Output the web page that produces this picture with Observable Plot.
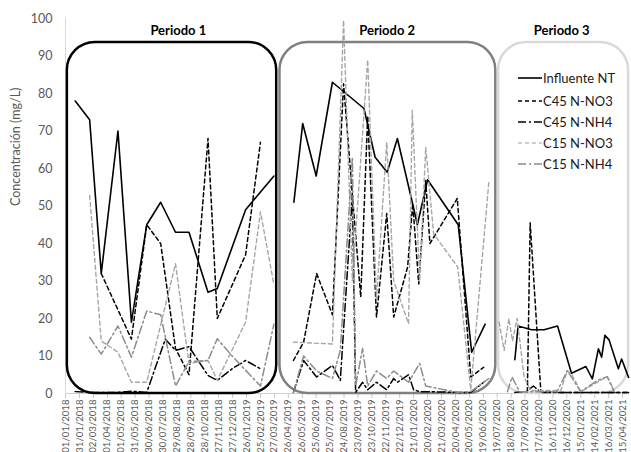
<!DOCTYPE html>
<html><head><meta charset="utf-8">
<script src="https://cdn.jsdelivr.net/npm/d3@7"></script>
<script src="https://cdn.jsdelivr.net/npm/@observablehq/plot@0.6"></script>
<style>
body{margin:0;background:#fff;}
#chart{position:relative;width:631px;height:452px;overflow:hidden;font-family:Lato,"Open Sans",sans-serif;}
#legend{position:absolute;left:0;top:0;}
</style></head><body><div id="chart"></div>
<script>
const tickLabels = ["01/01/2018","31/01/2018","02/03/2018","01/04/2018","01/05/2018","31/05/2018","30/06/2018","30/07/2018","29/08/2018","28/09/2018","28/10/2018","27/11/2018","27/12/2018","26/01/2019","25/02/2019","27/03/2019","26/04/2019","26/05/2019","25/06/2019","25/07/2019","24/08/2019","23/09/2019","23/10/2019","22/11/2019","22/12/2019","21/01/2020","20/02/2020","21/03/2020","20/04/2020","20/05/2020","19/06/2020","19/07/2020","18/08/2020","17/09/2020","17/10/2020","16/11/2020","16/12/2020","15/01/2021","14/02/2021","16/03/2021","15/04/2021"];
const yTicks = [0,10,20,30,40,50,60,70,80,90,100];
const xDomain = ["2018-01-01","2021-04-30"];
const periodNames = ["Periodo 1","Periodo 2","Periodo 3"];
const periodStart = ["2018-01-05","2019-04-08","2020-07-22"];
const periodEnd = ["2019-04-01","2020-07-16","2021-04-28"];
const periodLabelDate = ["2018-09-01","2019-11-25","2020-12-05"];
const periodTop = 93.6;
const periodLabelY = 96.8;
const seriesNames = ["Influente NT","C45 N-NO3","C45 N-NH4","C15 N-NO3","C15 N-NH4"];

const influenteNT = [["2018-01-22",78],["2018-02-22",73],["2018-03-19",32],["2018-04-24",70],["2018-05-23",19],["2018-06-25",45],["2018-07-25",51],["2018-08-26",43],["2018-09-24",43],["2018-11-04",27],["2018-11-24",28],["2019-01-24",49],["2019-03-26",58],
 [null,null],
 ["2019-05-08",51],["2019-05-27",72],["2019-06-25",58],["2019-07-30",83],["2019-10-06",76],["2019-10-30",63],["2019-11-25",59],["2019-12-17",68],["2020-01-18",51],["2020-01-29",45],["2020-02-20",57],["2020-04-26",45],["2020-05-25",11],["2020-06-23",18.5],
 [null,null],
 ["2020-08-26",9],["2020-09-02",18],["2020-10-01",17],["2020-10-28",17],["2020-11-26",18],["2020-12-26",5.4],["2021-01-26",7.2],["2021-02-09",3.9],["2021-02-22",11.9],["2021-03-01",9.7],["2021-03-08",15.5],["2021-03-17",14.3],["2021-04-06",6.6],["2021-04-13",9.2],["2021-04-28",4.3]];

const c45NO3 = [["2018-03-19",32],["2018-05-23",14.5],["2018-06-25",45],["2018-07-25",40],["2018-08-26",12],["2018-09-24",5],["2018-11-04",68],["2018-11-24",20],["2019-01-24",37],["2019-02-25",67],
 [null,null],
 ["2019-05-07",8.8],["2019-05-29",13.7],["2019-06-26",32],["2019-07-30",21],["2019-08-23",82.6],["2019-09-11",53],["2019-09-29",25.7],["2019-10-14",74],["2019-11-02",20.4],["2019-11-24",48],["2019-12-09",20.4],["2020-01-08",33.7],["2020-01-19",50.6],["2020-02-01",29.2],["2020-02-16",56.8],["2020-02-25",40],["2020-04-24",52],["2020-05-23",4.4],["2020-06-20",7],
 [null,null],
 ["2020-09-22",0.5],["2020-09-28",45.5],["2020-10-21",0.5],["2020-12-01",0.3],["2021-01-10",0.3],["2021-04-28",0.3]];

const c45NH4 = [["2018-01-22",0.5],["2018-02-22",0.3],["2018-03-19",0.3],["2018-04-24",0.3],["2018-05-23",0.6],["2018-06-25",0.3],["2018-08-04",14.5],["2018-08-26",11.5],["2018-09-24",12.5],["2018-11-04",4.8],["2018-11-24",3.5],["2018-12-26",6.6],["2019-01-24",8.8],["2019-02-25",6.6],
 [null,null],
 ["2019-05-07",0.3],["2019-05-29",8.8],["2019-06-26",4.4],["2019-07-30",7.5],["2019-08-16",3.5],["2019-09-11",53],["2019-09-18",0.3],["2019-10-03",3],["2019-10-14",1],["2019-11-02",3],["2019-11-24",1],["2019-12-09",4],["2019-12-17",3],["2020-01-10",5],["2020-01-21",1],["2020-02-03",0.5],["2020-02-16",0.5],["2020-04-25",0.3],["2020-05-23",0.3],["2020-06-20",3],
 [null,null],
 ["2020-08-26",0.3],["2020-09-20",0.5],["2020-10-05",2],["2020-10-21",0.3],["2021-04-28",0.3]];

const c15NO3 = [["2018-02-22",52.8],["2018-03-19",14],["2018-04-24",11],["2018-05-23",3],["2018-06-25",3],["2018-08-26",34.6],["2018-09-24",8],["2018-11-04",8.8],["2018-11-24",3.5],["2019-01-24",19],["2019-02-25",48.4],["2019-03-26",29],
 [null,null],
 ["2019-05-07",13.7],["2019-07-30",13.2],["2019-08-23",99.5],["2019-09-11",30],["2019-10-14",89],["2019-11-02",25],["2019-11-24",67],["2019-12-09",30],["2020-01-10",18.6],["2020-01-18",75.5],["2020-02-03",30],["2020-02-16",65.7],["2020-03-04",42.6],["2020-04-25",33.7],["2020-05-23",1],["2020-07-01",56.4],
 [null,null],
 ["2020-07-23",19],["2020-08-03",11.5],["2020-08-13",20],["2020-08-21",14],["2020-08-31",20],["2020-09-15",4.4],["2020-09-29",0.8],["2020-12-03",0.8],["2020-12-17",6.1],["2020-12-27",5],["2021-01-15",0.5],["2021-03-13",4.5],["2021-03-28",0.8]];

const c15NH4 = [["2018-02-22",15],["2018-03-19",10.5],["2018-04-24",18],["2018-05-23",9.7],["2018-06-25",22],["2018-07-25",21],["2018-08-26",2],["2018-09-24",8.5],["2018-11-04",8.8],["2018-11-24",14.6],["2018-12-26",10],["2019-02-25",2],["2019-03-26",18.5],
 [null,null],
 ["2019-05-07",0.3],["2019-05-29",10],["2019-06-26",6],["2019-07-30",4],["2019-08-16",11.5],["2019-09-11",63],["2019-09-18",2],["2019-10-03",12],["2019-10-14",2],["2019-11-02",6],["2019-11-24",4],["2019-12-09",6],["2020-01-10",3],["2020-02-03",8],["2020-02-16",2],["2020-04-25",0.3],["2020-05-23",0.5],["2020-07-01",4],
 [null,null],
 ["2020-08-10",0.5],["2020-08-20",4.4],["2020-09-05",0.5],["2020-11-25",0.5],["2020-12-17",6.1],["2021-01-15",0.5],["2021-02-20",3.5],["2021-03-13",4.5],["2021-03-28",0.5]];

const parse = d3.utcParse("%Y-%m-%d");
const parseTick = d3.utcParse("%d/%m/%Y");
const fmtTick = d3.utcFormat("%d/%m/%Y");
const toRows = arr => arr.map(([d, v]) => ({date: d == null ? null : parse(d), value: v}));

const styles = [
  {stroke:"#000000", dash:null, width:1.6},
  {stroke:"#000000", dash:"4,3", width:1.5},
  {stroke:"#000000", dash:"8,3,2,3", width:1.5},
  {stroke:"#a6a6a6", dash:"4,3", width:1.4},
  {stroke:"#8c8c8c", dash:"8,3,2,3", width:1.5}
];
const seriesData = [influenteNT, c45NO3, c45NH4, c15NO3, c15NH4].map(toRows);
const periods = periodNames.map((n, i) => ({name: n, x1: parse(periodStart[i]), x2: parse(periodEnd[i]), lx: parse(periodLabelDate[i])}));
const periodStroke = ["#000000", "#808080", "#d9d9d9"];

const chart = Plot.plot({
  width: 631, height: 452,
  marginLeft: 65, marginRight: 2, marginTop: 18, marginBottom: 59,
  x: {type: "utc", domain: xDomain.map(parse)},
  y: {domain: [0, 100]},
  style: {fontFamily: "Lato, 'Open Sans', sans-serif", background: "white", overflow: "visible"},
  marks: [
    Plot.ruleY([0], {stroke: "#d0d0d0"}),
    Plot.ruleX([parse(xDomain[0])], {stroke: "#d9d9d9"}),
    Plot.axisX(tickLabels.map(parseTick), {tickSize: 5, stroke: "#c8c8c8", fill: "#595959", tickFormat: fmtTick, tickRotate: -90, fontSize: 9.6, tickPadding: 1, label: null}),
    Plot.axisY(yTicks, {tickSize: 0, tickPadding: 13, fill: "#595959", fontSize: 12.5, label: null}),
    Plot.text(["Concentración (mg/L)"], {frameAnchor: "left", rotate: -90, dx: -50, fontSize: 12.5, fill: "#595959"}),
    ...periods.map((p, i) => Plot.rect([p], {x1: "x1", x2: "x2", y1: 0, y2: periodTop, rx: 28, fill: "none", stroke: periodStroke[i], strokeWidth: 2.5})),
    Plot.text(periods, {x: "lx", y: periodLabelY, text: "name", fontWeight: "bold", fontSize: 13, fill: "#000"}),
    ...seriesData.map((rows, i) => Plot.line(rows, {x: "date", y: "value", stroke: styles[i].stroke, strokeDasharray: styles[i].dash, strokeWidth: styles[i].width}))
  ]
});
document.getElementById("chart").appendChild(chart);

// legend overlay
const legendRows = [78, 101, 122, 143, 164];
const lg = d3.select("#chart").append("svg").attr("id", "legend").attr("width", 631).attr("height", 452);
seriesNames.forEach((name, i) => {
  const g = lg.append("g").attr("transform", `translate(518,${legendRows[i]})`);
  g.append("line").attr("x1", 0).attr("x2", 24).attr("y1", 0).attr("y2", 0)
    .attr("stroke", i === 3 ? "#bfbfbf" : styles[i].stroke).attr("stroke-width", 1.6)
    .attr("stroke-dasharray", styles[i].dash);
  g.append("text").attr("x", 25).attr("y", 0).attr("dy", "0.35em")
    .attr("font-family", "Lato, 'Open Sans', sans-serif").attr("font-size", 13).attr("fill", "#1a1a1a").text(name);
});
</script></body></html>
